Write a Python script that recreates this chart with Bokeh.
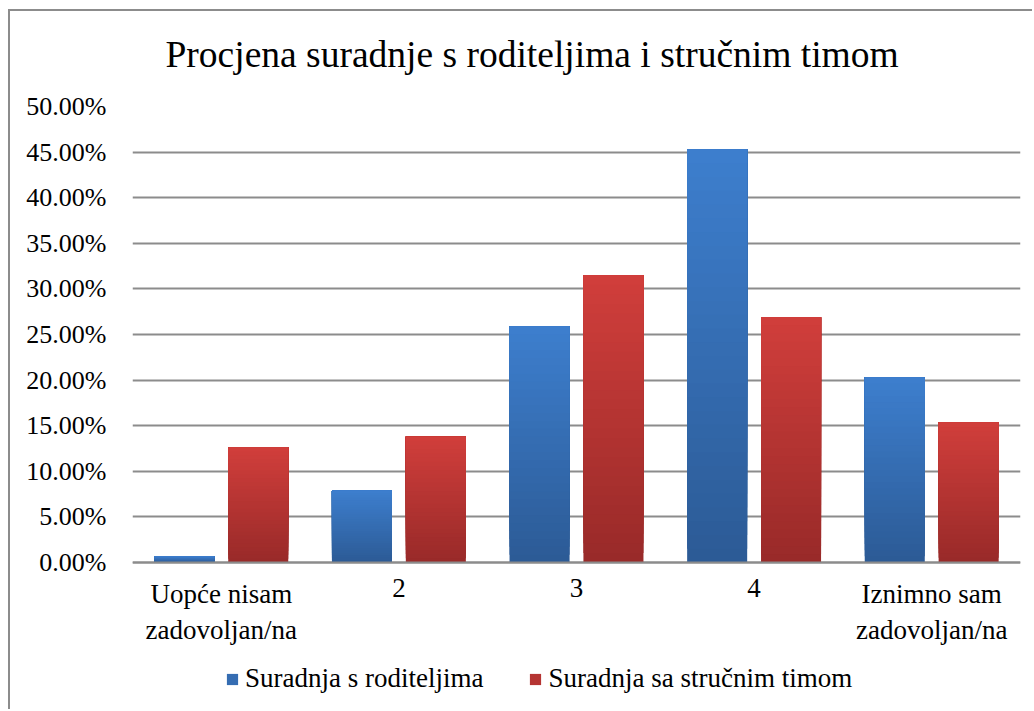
from bokeh.plotting import figure
from bokeh.models import (ColumnDataSource, FactorRange, Range1d, FixedTicker,
                          NumeralTickFormatter, Legend, LegendItem, Span)
from bokeh.core.properties import value
from bokeh.transform import dodge
from bokeh.embed import file_html
from bokeh.resources import INLINE

categories = ["Uopće nisam\nzadovoljan/na", "2", "3", "4", "Iznimno sam\nzadovoljan/na"]
series_names = ["Suradnja s roditeljima", "Suradnja sa stručnim timom"]
roditelji = [0.0066, 0.0789, 0.2588, 0.4528, 0.2028]
strucni_tim = [0.1260, 0.1380, 0.3150, 0.2690, 0.1535]
y_ticks = [0.0, 0.05, 0.10, 0.15, 0.20, 0.25, 0.30, 0.35, 0.40, 0.45, 0.50]

FONT = "Liberation Serif"
GRID = "#8c8c8c"

# layout: frame spans the area under the title down to the figure bottom;
# the value axis maps 0..0.5 to the upper 456 px, the rest holds labels + legend
H, TOP = 709, 106
ZERO_PX = 562
y_start = -(H - ZERO_PX) / ((ZERO_PX - TOP) / 0.5)

p = figure(width=1032, height=H, x_range=FactorRange(*categories, range_padding=0),
           y_range=Range1d(y_start, 0.5), output_backend="svg", toolbar_location=None,
           x_axis_location=None,
           min_border_left=132, min_border_right=12, min_border_top=TOP, min_border_bottom=0)
p.outline_line_color = None
p.background_fill_color = "white"
p.border_fill_alpha = 0
p.styles = {
    "background": "linear-gradient(#8c8c8c,#8c8c8c) 8px 9px / 2px 100% no-repeat, "
                  "linear-gradient(#8c8c8c,#8c8c8c) 8px 9px / 100% 2px no-repeat, white"
}

p.title.text = "Procjena suradnje s roditeljima i stručnim timom"
p.title.text_font = FONT
p.title.text_font_size = "37.5px"
p.title.text_font_style = "normal"
p.title.text_color = "#000000"
p.title.align = "left"
p.title.offset = 33
p.title.standoff = 63

# y axis
p.yaxis.ticker = FixedTicker(ticks=y_ticks)
p.yaxis.formatter = NumeralTickFormatter(format="0.00%")
p.yaxis.axis_line_color = None
p.yaxis.major_tick_line_color = None
p.yaxis.minor_tick_line_color = None
p.yaxis.major_label_text_font = FONT
p.yaxis.major_label_text_font_size = "26px"
p.yaxis.major_label_text_color = "#000000"
p.yaxis.major_label_standoff = 20

p.xgrid.grid_line_color = None
p.ygrid.ticker = FixedTicker(ticks=y_ticks)
p.ygrid.grid_line_color = GRID
p.ygrid.grid_line_width = 2

# category axis line at 0
p.add_layout(Span(location=0, dimension="width", line_color=GRID, line_width=2))

# category labels under the axis
lab_src = ColumnDataSource(dict(x=categories, y=[0] * len(categories), t=categories))
p.text(x="x", y="y", text="t", source=lab_src, y_offset=16, text_align="center",
       text_baseline="top", text_font=value(FONT), text_font_size="27px",
       text_color="#000000", text_line_height=1.2)

N = 30


def lerp(c1, c2, t):
    return "#%02x%02x%02x" % tuple(int(round(a + (b - a) * t)) for a, b in zip(c1, c2))


def gradient_source(values, top_rgb, bottom_rgb):
    xs, bottoms, tops, colors = [], [], [], []
    for k in range(N):
        t = k / (N - 1)
        col = lerp(bottom_rgb, top_rgb, t)
        for cat, v in zip(categories, values):
            xs.append(cat)
            bottoms.append(v * k / N)
            tops.append(v)
            colors.append(col)
    return ColumnDataSource(dict(cat=xs, bottom=bottoms, top=tops, color=colors))


blue_src = gradient_source(roditelji, (61, 126, 205), (44, 91, 150))
red_src = gradient_source(strucni_tim, (208, 62, 59), (153, 42, 41))

w = 0.338
r_blue = p.vbar(x=dodge("cat", -0.208, range=p.x_range), bottom="bottom", top="top",
                width=w, source=blue_src, fill_color="color", line_color=None)
r_red = p.vbar(x=dodge("cat", 0.208, range=p.x_range), bottom="bottom", top="top",
               width=w, source=red_src, fill_color="color", line_color=None)

mid = (N // 2) * len(categories)
legend = Legend(items=[LegendItem(label=series_names[0], renderers=[r_blue], index=mid),
                       LegendItem(label=series_names[1], renderers=[r_red], index=mid)],
                orientation="horizontal", location=(93, 15))
legend.label_text_font = FONT
legend.label_text_font_size = "27px"
legend.label_text_color = "#000000"
legend.glyph_width = 14
legend.glyph_height = 14
legend.label_standoff = 6
legend.spacing = 45
legend.padding = 0
legend.margin = 0
legend.border_line_color = None
legend.background_fill_alpha = 0
p.add_layout(legend, "center")

open("out.html", "w").write(file_html(p, INLINE))
